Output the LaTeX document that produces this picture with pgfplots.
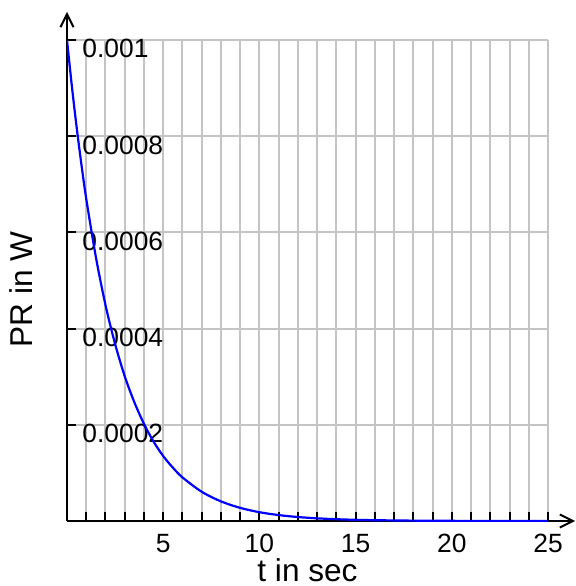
\documentclass[border=0pt]{standalone}
\usepackage{fontspec}
\setmainfont{Liberation Sans}
\usepackage{pgfplots}
\pgfplotsset{compat=1.18}
\usetikzlibrary{arrows.meta}
\definecolor{gridgray}{RGB}{196,196,196}

\begin{document}
\begin{tikzpicture}
\begin{axis}[
    scale only axis,
    width=240.5bp, height=240.5bp,
    xmin=0, xmax=25, ymin=0, ymax=0.001,
    axis lines=left,
    axis line style={line width=1bp, black},
    x axis line style={-{Straight Barb[length=6.5bp,width=6.5bp,line width=1bp]}, shorten >=-13.5bp},
    y axis line style={-{Straight Barb[length=6.5bp,width=6.5bp,line width=1bp]}, shorten >=-14bp},
    xtick={5,10,...,25},
    minor xtick={1,...,25},
    ytick={0.0002,0.0004,0.0006,0.0008,0.001},
    tick align=inside,
    major tick length=4.5bp, minor tick length=4.5bp,
    tick style={black, line width=1bp},
    grid=both,
    major grid style={gridgray, line width=1bp},
    minor grid style={gridgray, line width=1bp},
    tick label style={font=\fontsize{13.2bp}{15bp}\selectfont},
    /pgf/number format/assume math mode=true,
    yticklabel style={anchor=north west, inner sep=0pt, xshift=7.5bp, yshift=0.5bp,
        /pgf/number format/fixed, /pgf/number format/precision=4},
    xticklabel style={anchor=north, inner sep=0pt, yshift=-6.5bp},
    scaled y ticks=false,
    xlabel={t in sec},
    ylabel={PR in W},
    label style={font=\fontsize{15.8bp}{18bp}\selectfont, inner sep=0pt},
    xlabel style={at={(axis description cs:0.5,0)}, anchor=north, yshift=-18.5bp},
    ylabel style={at={(axis description cs:-0.0707,0.482)}, anchor=south},
]
\addplot[blue, line width=1.1bp, smooth] coordinates {
    (0,0.001) (0.25,0.000905) (0.5,0.000819) (0.75,0.000741) (1,0.000670)
    (1.5,0.000549) (2,0.000449) (2.5,0.000368) (3,0.000301) (3.5,0.000247)
    (4,0.000202) (4.5,0.000165) (5,0.000135) (5.5,0.000111) (6,0.0000907)
    (7,0.0000608) (8,0.0000408) (9,0.0000273) (10,0.0000183) (11,0.0000123)
    (12,0.00000823) (13,0.00000552) (14,0.0000037) (15,0.00000248)
    (16,0.00000166) (18,0.00000075) (20,0.00000034) (22,0.00000015) (25,0.00000005)
};
\coordinate (O) at (axis cs:0,0);
\end{axis}
\pgfresetboundingbox
\path[use as bounding box] ([xshift=-33.5bp,yshift=-32.5bp]O) rectangle ([xshift=254.5bp,yshift=260.5bp]O);
\end{tikzpicture}
\end{document}
